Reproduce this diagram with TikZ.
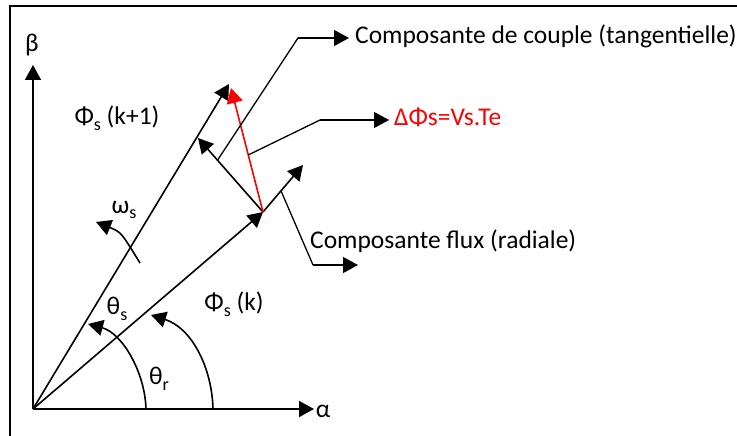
\documentclass[tikz,border=0pt]{standalone}
\usepackage{fontspec}
\setmainfont{Carlito}
\usetikzlibrary{arrows.meta,calc}
\newcommand{\sbs}[1]{\raisebox{-0.22em}{\fontsize{18}{18}\selectfont #1}}
\begin{document}
\begin{tikzpicture}[x=1pt,y=-1pt,
  vec/.style={line width=1.6pt, -{Triangle[length=15pt,width=16pt]}},
  lead/.style={line width=1.3pt},
  leadarr/.style={line width=1.3pt, -{Triangle[length=15pt,width=16pt]}},
  lbl/.style={font=\fontsize{25.5}{29}\selectfont, inner sep=0pt},
  frame/.style={line width=2pt},
]
\useasboundingbox (0,0) rectangle (737,436);
% frame
\coordinate (F1) at (10,440);
\coordinate (F2) at (10,6);
\coordinate (F3) at (740,6);
\draw[frame] (F1) -- (F2) -- (F3);

% key points
\coordinate (O) at (33,409);
\coordinate (A) at (314,409);
\coordinate (B) at (33,65);
\coordinate (P) at (263,212);
\coordinate (Qk) at (303,165);
\coordinate (Q1) at (229,84);
\coordinate (T) at (198,138);
\coordinate (R) at (231,88);

% axes
\draw[vec] (O) -- (A);
\draw[vec] (O) -- (B);
\node[lbl] (alpha) at (323,411) {α};
\node[lbl] (beta) at (32,45) {β};

% vectors
\draw[vec] (O) -- (Q1);
\draw[vec] (O) -- (P);
\draw[vec] (P) -- (Qk);
\draw[vec] (P) -- (T);
\draw[vec, red] (P) -- (R);

% leaders
\coordinate (Lc0) at ($(P)!0.7!(T)$);
\coordinate (Lc1) at (298,38);
\coordinate (Lc2) at (349,38);
\draw[lead] (Lc0) -- (Lc1);
\draw[leadarr] (Lc1) -- (Lc2);
\node[lbl, anchor=west] (couple) at (355,36) {Composante de couple (tangentielle)};

\coordinate (Ld0) at ($(P)!0.46!(R)$);
\coordinate (Ld1) at (320,120);
\coordinate (Ld2) at (389,120);
\draw[lead] (Ld0) -- (Ld1);
\draw[leadarr] (Ld1) -- (Ld2);
\node[lbl, anchor=west, text=red] (dphi) at (394,117) {ΔΦs=Vs.Te};

\coordinate (Lf0) at ($(P)!0.45!(Qk)$);
\coordinate (Lf1) at (313,265);
\coordinate (Lf2) at (358,265);
\draw[lead] (Lf0) -- (Lf1);
\draw[leadarr] (Lf1) -- (Lf2);
\node[lbl, anchor=west] (flux) at (310,241) {Composante flux (radiale)};

% labels
\node[lbl] (phik1) at (117,118) {Φ\sbs{s} (k+1)};
\node[lbl] (phik) at (234,304) {Φ\sbs{s} (k)};
\node[lbl] (omega) at (124,210) {ω\sbs{s}};
\node[lbl] (thetas) at (117,309) {θ\sbs{s}};
\node[lbl] (thetar) at (159,379) {θ\sbs{r}};

% arcs
\coordinate (W0) at (140,263);
\coordinate (W1) at (96,222);
\draw[vec] (W0) .. controls (121,232) .. (W1);
\coordinate (S0) at (146,409);
\coordinate (S1) at (88,324);
\draw[vec] (S0) .. controls (145,372) and (122,333) .. (S1);
\coordinate (R0) at (213,409);
\coordinate (R1) at (151,315);
\draw[vec] (R0) .. controls (212,368) and (192,328) .. (R1);
\end{tikzpicture}
\end{document}
